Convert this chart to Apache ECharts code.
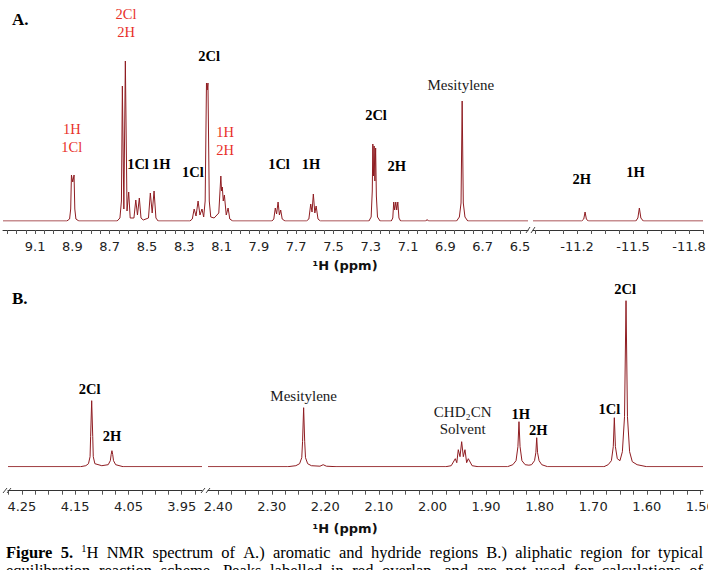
<!DOCTYPE html>
<html><head><meta charset="utf-8">
<script src="https://cdn.jsdelivr.net/npm/echarts@6/dist/echarts.min.js"></script>
<style>html,body{margin:0;padding:0;background:#fff}#c{width:708px;height:570px}</style>
</head><body><div id="c"></div>
<script>
// ---------- DATA ----------
// Panel A, aromatic region: [ppm, intensity]
const specAromatic = [
 [9.272,0],[8.93,0],[8.915,2],[8.909,12],[8.905,46],[8.898,39],[8.891,46],[8.887,12],[8.881,2],[8.865,0],
 [8.66,0],[8.645,3],[8.637,20],[8.632,135],[8.624,12],[8.616,160],[8.607,10],[8.598,29],[8.590,3],[8.570,3],
 [8.560,21],[8.551,6],[8.541,23],[8.532,3],[8.520,1],[8.492,3],[8.482,28],[8.472,8],[8.462,30],[8.452,3],[8.44,0],
 [8.27,0],[8.257,2],[8.247,12],[8.237,5],[8.226,20],[8.216,6],[8.205,12],[8.196,4],[8.188,20],[8.181,138],
 [8.177,131],[8.173,138],[8.166,20],[8.158,4],[8.14,3],[8.115,8],[8.104,45],[8.100,30],[8.096,34],[8.091,20],
 [8.085,26],[8.075,6],[8.065,13],[8.056,2],[8.04,0],
 [7.83,0],[7.820,2],[7.812,13],[7.805,7],[7.797,19],[7.790,6],[7.783,11],[7.775,2],[7.76,0],
 [7.645,0],[7.632,2],[7.622,17],[7.615,9],[7.608,27],[7.600,8],[7.593,15],[7.583,2],[7.57,0],
 [7.31,0],[7.298,4],[7.292,30],[7.289,77],[7.286,45],[7.282,75],[7.278,40],[7.274,73],[7.270,25],[7.264,4],[7.25,0],
 [7.19,0],[7.182,3],[7.177,19],[7.172,11],[7.166,19],[7.161,11],[7.155,19],[7.149,3],[7.14,0],
 [7.005,0],[6.998,1.5],[6.991,0],
 [6.84,0],[6.825,4],[6.816,18],[6.810,120],[6.804,18],[6.795,4],[6.78,0],
 [6.457,0]
];
// Panel A, hydride region
const specHydride = [
 [-10.964,0],[-11.225,0],[-11.236,2],[-11.243,9],[-11.250,2],[-11.26,0],
 [-11.515,0],[-11.526,3],[-11.534,13],[-11.542,3],[-11.555,0],[-11.875,0]
];
// Panel B, 4.3-3.9 ppm
const specMethylene = [
 [4.276,0],[4.14,0],[4.13,1],[4.125,3],[4.122,10],[4.121,30],[4.119,66],[4.117,30],[4.116,10],[4.113,3],
 [4.10,1],[4.088,2],[4.084,6],[4.0825,12],[4.081,16],[4.0795,12],[4.078,6],[4.074,2],[4.06,0],[3.912,0]
];
// Panel B, 2.4-1.5 ppm
const specAliphatic = [
 [2.419,0],[2.27,0],[2.255,1],[2.248,3],[2.244,9],[2.2425,25],[2.2405,59],[2.2385,25],[2.237,9],[2.233,3],
 [2.226,1],[2.21,0.5],[2.204,2],[2.198,0.5],[2.18,0],
 [1.975,0],[1.965,1],[1.9574,8],[1.9546,4],[1.9518,17],[1.9486,10],[1.9455,25],[1.9424,10],[1.9393,17],
 [1.9362,4],[1.9331,8],[1.926,1],[1.915,0],
 [1.86,0],[1.85,2],[1.844,6],[1.8405,20],[1.8385,45],[1.8365,20],[1.833,6],[1.827,2],[1.82,1.5],
 [1.815,2],[1.8095,6],[1.807,14],[1.8054,29],[1.8038,14],[1.801,6],[1.796,2],[1.785,0],
 [1.68,0],[1.672,2],[1.666,6],[1.6625,20],[1.6605,49],[1.6585,20],[1.655,8],[1.650,6],[1.6455,15],
 [1.6415,50],[1.6387,166],[1.636,50],[1.632,15],[1.627,5],[1.618,2],[1.60,0],[1.495,0]
];

// Tick labels
const labelsAromatic = [9.1,8.9,8.7,8.5,8.3,8.1,7.9,7.7,7.5,7.3,7.1,6.9,6.7,6.5];
const labelsHydride = [-11.2,-11.5,-11.8];
const labelsMethylene = [4.25,4.15,4.05,3.95];
const labelsAliphatic = [2.40,2.30,2.20,2.10,2.00,1.90,1.80,1.70,1.60,1.50];

// Peak annotations: ppm, label level (intensity units), text, group
const annAromaticPpm   = [8.903, 8.612, 8.548, 8.424, 8.254, 8.167, 8.081, 7.792, 7.620, 7.272, 7.161, 6.817];
const annAromaticLevel = [83, 198, 57, 57, 49, 165, 80, 57, 57, 106, 55, 136];
const annAromaticText  = ['1H\n1Cl','2Cl\n2H','1Cl','1H','1Cl','2Cl','1H\n2H','1Cl','1H','2Cl','2H','Mesitylene'];
const annAromaticGroup = ['overlap','overlap','species','species','species','species','overlap','species','species','species','species','reference'];

const annHydridePpm   = [-11.225, -11.514];
const annHydrideLevel = [42, 49];
const annHydrideText  = ['2H','1H'];
const annHydrideGroup = ['species','species'];

const annMethylenePpm   = [4.123, 4.081];
const annMethyleneLevel = [78, 31];
const annMethyleneText  = ['2Cl','2H'];
const annMethyleneGroup = ['species','species'];

const annAliphaticPpm   = [2.2405, 1.9436, 1.8353, 1.8024, 1.6698, 1.6405];
const annAliphaticLevel = [71, 46, 53, 37, 58, 178];
const annAliphaticText  = ['Mesitylene','CHD₂CN\nSolvent','1H','2H','1Cl','2Cl'];
const annAliphaticGroup = ['reference','reference','species','species','species','species'];

const captionLines = [
  'Figure 5. ¹H NMR spectrum of A.) aromatic and hydride regions B.) aliphatic region for typical',
  'equilibration reaction scheme. Peaks labelled in red overlap, and are not used for calculations of'
];

// ---------- CHART ----------
const LINE = '#8f1d22';
const SERIF = 'Liberation Serif';
const SANS = 'DejaVu Sans';

function tickList(lo, hi, anchor, step){
  const out = [];
  const kmin = Math.ceil((lo - anchor) / step - 1e-9), kmax = Math.floor((hi - anchor) / step + 1e-9);
  for (let k = kmin; k <= kmax; k++) out.push(+(anchor + k * step).toFixed(4));
  return out;
}
function makeX(gi, min, max, labels, step, offset, margin, dec){
  return {
    type:'value', gridIndex:gi, inverse:true, min:min, max:max, offset:offset,
    axisLine:{show:true, onZero:false, lineStyle:{color:'#333', width:1}},
    axisTick:{show:true, length:4, lineStyle:{color:'#555', width:1}, customValues: tickList(min, max, labels[0], step)},
    axisLabel:{show:true, customValues: labels, formatter: v => (+v).toFixed(dec), margin:margin,
      fontFamily:SANS, fontSize:13, color:'#222', hideOverlap:false},
    splitLine:{show:false}
  };
}
function makeY(gi){ return {type:'value', gridIndex:gi, min:0, max:220, show:false}; }
function lineSeries(i, data){
  return {type:'line', xAxisIndex:i, yAxisIndex:i, data:data, symbol:'none', showSymbol:false,
    lineStyle:{color:LINE, width:1}, silent:true, animation:false, clip:true};
}
const groupStyle = {
  overlap:  {color:'#e8302a', fontWeight:'normal', fontSize:14.5, lineHeight:18},
  species:  {color:'#000', fontWeight:'bold', fontSize:14.5, lineHeight:18},
  reference:{color:'#1a1a1a', fontWeight:'normal', fontSize:15, lineHeight:17}
};
function annSeries(i, ppm, level, text, group){
  const data = ppm.map((p, k) => ({
    value:[p, level[k]],
    label:Object.assign({show:true, position:'inside', formatter:text[k], fontFamily:SERIF, align:'center', verticalAlign:'middle', opacity:1}, groupStyle[group[k]])
  }));
  return {type:'scatter', xAxisIndex:i, yAxisIndex:i, data:data, symbolSize:1,
    itemStyle:{color:'rgba(0,0,0,0)', opacity:1}, emphasis:{disabled:true}, silent:true, animation:false, clip:false, z:5};
}

// justified caption lines (words spread across the text width)
const ctx = document.createElement('canvas').getContext('2d');
function measure(font, s){ ctx.font = font; return ctx.measureText(s).width; }
const CAP_N = '16.5px "Liberation Serif"', CAP_B = 'bold 16.5px "Liberation Serif"', CAP_S = '10.5px "Liberation Serif"';
const captionEls = [];
captionLines.forEach((line, li) => {
  const words = line.split(' ');
  const segs = words.map((w, wi) => {
    if (li === 0 && wi < 2) return [{t:w, f:CAP_B, dy:0}];
    if (w.startsWith('¹')) return [{t:'1', f:CAP_S, dy:-4}, {t:w.slice(1), f:CAP_N, dy:0}];
    return [{t:w, f:CAP_N, dy:0}];
  });
  const widths = segs.map(s => s.reduce((a, g) => a + measure(g.f, g.t), 0));
  const total = widths.reduce((a, b) => a + b, 0);
  const x0 = 6, x1 = 703;
  const gap = (x1 - x0 - total) / (words.length - 1);
  const y = li === 0 ? 552.5 : 570.5;
  let x = x0;
  segs.forEach((s, wi) => {
    let xx = x;
    s.forEach(g => {
      captionEls.push({type:'text', x:xx, y:y + g.dy, style:{text:g.t, font:g.f, fill:'#000', verticalAlign:'middle', align:'left'}});
      xx += measure(g.f, g.t);
    });
    x += widths[wi] + gap;
  });
});

const option = {
  backgroundColor:'#fff',
  animation:false,
  grid:[
    {left:3, top:1, width:525, height:220, outerBoundsMode:'none', containLabel:false},
    {left:533, top:1, width:170, height:220, outerBoundsMode:'none', containLabel:false},
    {left:8, top:246.7, width:194, height:220, outerBoundsMode:'none', containLabel:false},
    {left:208, top:246.7, width:495, height:220, outerBoundsMode:'none', containLabel:false}
  ],
  xAxis:[
    makeX(0, 6.457, 9.272, labelsAromatic, 0.05, 9, 9.5, 1),
    makeX(1, -11.875, -10.964, labelsHydride, 0.075, 9, 9.5, 1),
    makeX(2, 3.912, 4.276, labelsMethylene, 0.025, 24, 9, 2),
    makeX(3, 1.495, 2.419, labelsAliphatic, 0.025, 24, 9, 2)
  ],
  yAxis:[makeY(0), makeY(1), makeY(2), makeY(3)],
  series:[
    lineSeries(0, specAromatic),
    lineSeries(1, specHydride),
    lineSeries(2, specMethylene),
    lineSeries(3, specAliphatic),
    annSeries(0, annAromaticPpm, annAromaticLevel, annAromaticText, annAromaticGroup),
    annSeries(1, annHydridePpm, annHydrideLevel, annHydrideText, annHydrideGroup),
    annSeries(2, annMethylenePpm, annMethyleneLevel, annMethyleneText, annMethyleneGroup),
    annSeries(3, annAliphaticPpm, annAliphaticLevel, annAliphaticText, annAliphaticGroup)
  ],
  graphic:[
    {type:'text', left:12, top:11, style:{text:'A.', font:'bold 17px "Liberation Serif"', fill:'#000'}},
    {type:'text', left:12, top:290, style:{text:'B.', font:'bold 17px "Liberation Serif"', fill:'#000'}},
    {type:'text', x:345, y:265, style:{text:'¹H (ppm)', font:'bold 13px "DejaVu Sans"', fill:'#111', align:'center', verticalAlign:'middle'}},
    {type:'text', x:345, y:528, style:{text:'¹H (ppm)', font:'bold 13px "DejaVu Sans"', fill:'#111', align:'center', verticalAlign:'middle'}},
    // axis break marks
    {type:'polyline', shape:{points:[[526,233],[530,227]]}, style:{stroke:'#444', lineWidth:1, fill:null}},
    {type:'polyline', shape:{points:[[531,233],[535,227]]}, style:{stroke:'#444', lineWidth:1, fill:null}},
    {type:'polyline', shape:{points:[[3,493],[7,488]]}, style:{stroke:'#444', lineWidth:1, fill:null}},
    {type:'polyline', shape:{points:[[7,493],[11,488]]}, style:{stroke:'#444', lineWidth:1, fill:null}},
    {type:'polyline', shape:{points:[[201,493],[205,488]]}, style:{stroke:'#444', lineWidth:1, fill:null}},
    {type:'polyline', shape:{points:[[206,493],[210,488]]}, style:{stroke:'#444', lineWidth:1, fill:null}}
  ].concat(captionEls)
};
const chart = echarts.init(document.getElementById('c'), null, {renderer:'svg', width:708, height:570});
chart.setOption(option);
</script>
</body></html>
